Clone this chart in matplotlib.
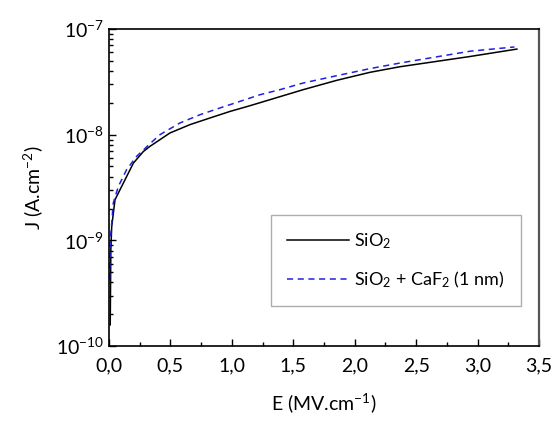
import numpy as np
import matplotlib
matplotlib.use('Agg')
import matplotlib.pyplot as plt
from matplotlib.ticker import FuncFormatter, MultipleLocator, LogLocator, NullFormatter

plt.rcParams['font.family'] = ['Lato', 'DejaVu Sans']
plt.rcParams['mathtext.fontset'] = 'custom'
plt.rcParams['mathtext.rm'] = 'Lato'
plt.rcParams['mathtext.it'] = 'Lato'
plt.rcParams['mathtext.default'] = 'regular'

# SiO2 reference curve (E in MV/cm, log10 J in A/cm2)
e_sio2 = [0.01, 0.015, 0.022, 0.049, 0.09, 0.144, 0.198, 0.279, 0.334, 0.496,
          0.659, 0.822, 0.985, 1.147, 1.310, 1.581, 1.853, 2.124, 2.369, 2.94, 3.32]
logj_sio2 = [-9.80, -9.09, -8.87, -8.615, -8.52, -8.395, -8.27, -8.16, -8.11, -7.984,
             -7.905, -7.842, -7.780, -7.726, -7.669, -7.574, -7.486, -7.41, -7.357, -7.26, -7.19]

# SiO2 + CaF2 (1 nm)
e_caf2 = [0.005, 0.01, 0.022, 0.035, 0.076, 0.144, 0.225, 0.334, 0.415, 0.578,
          0.741, 0.904, 1.066, 1.229, 1.392, 1.581, 1.853, 2.124, 2.369, 2.94, 3.30]
logj_caf2 = [-9.37, -9.0, -8.835, -8.646, -8.49, -8.33, -8.205, -8.085, -8.0, -7.889,
             -7.811, -7.747, -7.685, -7.622, -7.574, -7.511, -7.442, -7.375, -7.322, -7.21, -7.17]

j_sio2 = 10.0 ** np.array(logj_sio2)
j_caf2 = 10.0 ** np.array(logj_caf2)

fig = plt.figure(figsize=(5.53, 4.23), dpi=100)
ax = fig.add_axes([109 / 553, 1 - 346 / 423, (539 - 109) / 553, (346 - 29) / 423])

ax.plot(e_sio2, j_sio2, color='black', lw=1.1, label='SiO$_{2}$')
ax.plot(e_caf2, j_caf2, color='#2020e0', lw=1.1, ls=(0, (4, 3)),
        label='SiO$_{2}$ + CaF$_{2}$ (1 nm)')

ax.set_yscale('log')
ax.set_xlim(0, 3.5)
ax.set_ylim(1e-10, 1e-7)

ax.xaxis.set_major_locator(MultipleLocator(0.5))
ax.xaxis.set_minor_locator(MultipleLocator(0.25))
ax.xaxis.set_major_formatter(FuncFormatter(lambda v, p: f'{v:.1f}'.replace('.', ',')))
ax.yaxis.set_major_locator(LogLocator(base=10))
ax.yaxis.set_minor_locator(LogLocator(base=10, subs=np.arange(2, 10)))
ax.yaxis.set_major_formatter(FuncFormatter(lambda v, p: f'10$^{{{int(round(np.log10(v)))}}}$'))
ax.yaxis.set_minor_formatter(NullFormatter())

ax.tick_params(which='both', direction='in', top=False, right=False, labelsize=14)
ax.tick_params(which='major', length=5, width=1)
ax.tick_params(which='minor', length=3, width=1)
ax.tick_params(axis='x', pad=8)

for s in ['left', 'bottom', 'top']:
    ax.spines[s].set_linewidth(1.2)
ax.spines['right'].set_linewidth(1.6)
ax.spines['right'].set_color('#555555')

ax.set_xlabel('E (MV.cm$^{-1}$)', fontsize=14, labelpad=12)
ax.set_ylabel('J (A.cm$^{-2}$)', fontsize=14, labelpad=8)

leg = ax.legend(loc='lower right', bbox_to_anchor=(0.979, 0.098), fontsize=13,
                fancybox=False, edgecolor='#999999', handlelength=3.4,
                borderpad=0.9, labelspacing=1.0, handletextpad=0.3)
leg.get_frame().set_linewidth(1.0)

fig.savefig('out.png', dpi=100)
